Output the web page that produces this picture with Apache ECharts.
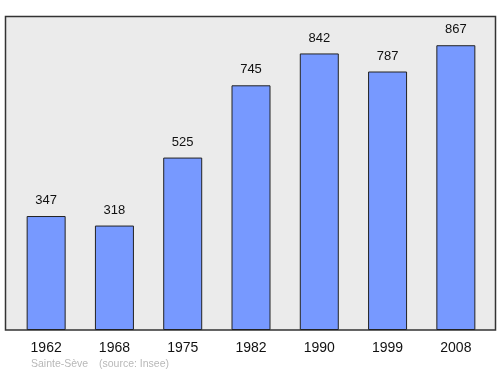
<!DOCTYPE html>
<html><head><meta charset="utf-8">
<script src="https://cdn.jsdelivr.net/npm/echarts@6/dist/echarts.min.js"></script>
<style>html,body{margin:0;padding:0;background:#fff}#c{width:500px;height:374px}</style>
</head><body><div id="c"></div>
<script>
var categories = ['1962','1968','1975','1982','1990','1999','2008'];
var values = [347, 318, 525, 745, 842, 787, 867];
var footerPlace = 'Sainte-Sève';
var footerSource = '(source: Insee)';

var chart = echarts.init(document.getElementById('c'), null, {renderer:'canvas'});
chart.setOption({
  animation:false,
  graphic:[
    {type:'rect', z:-10, shape:{x:5.5,y:16.5,width:490,height:313.5}, style:{fill:'#ebebeb', stroke:'#333', lineWidth:1.5}},
    {type:'text', left:31, top:359, style:{text:footerPlace, fill:'#b8b8b8', font:'10.5px "Liberation Sans", Arial, sans-serif'}},
    {type:'text', left:99, top:359, style:{text:footerSource, fill:'#b8b8b8', font:'10.5px "Liberation Sans", Arial, sans-serif'}}
  ],
  grid:{left:12, right:10, top:16, bottom:44},
  xAxis:{type:'category', data:categories, axisTick:{show:false}, axisLine:{show:false},
    axisLabel:{color:'#111', fontSize:14, fontFamily:'"Liberation Sans", Arial, sans-serif', margin:11}},
  yAxis:{type:'value', min:0, max:956, show:false, splitLine:{show:false}},
  series:[{type:'bar', data:values, barWidth:39,
    itemStyle:{color:'#7799ff', borderColor:'#222', borderWidth:1},
    label:{show:true, position:'top', distance:9, color:'#111', fontSize:13, fontFamily:'"Liberation Sans", Arial, sans-serif'}}]
});
</script></body></html>
